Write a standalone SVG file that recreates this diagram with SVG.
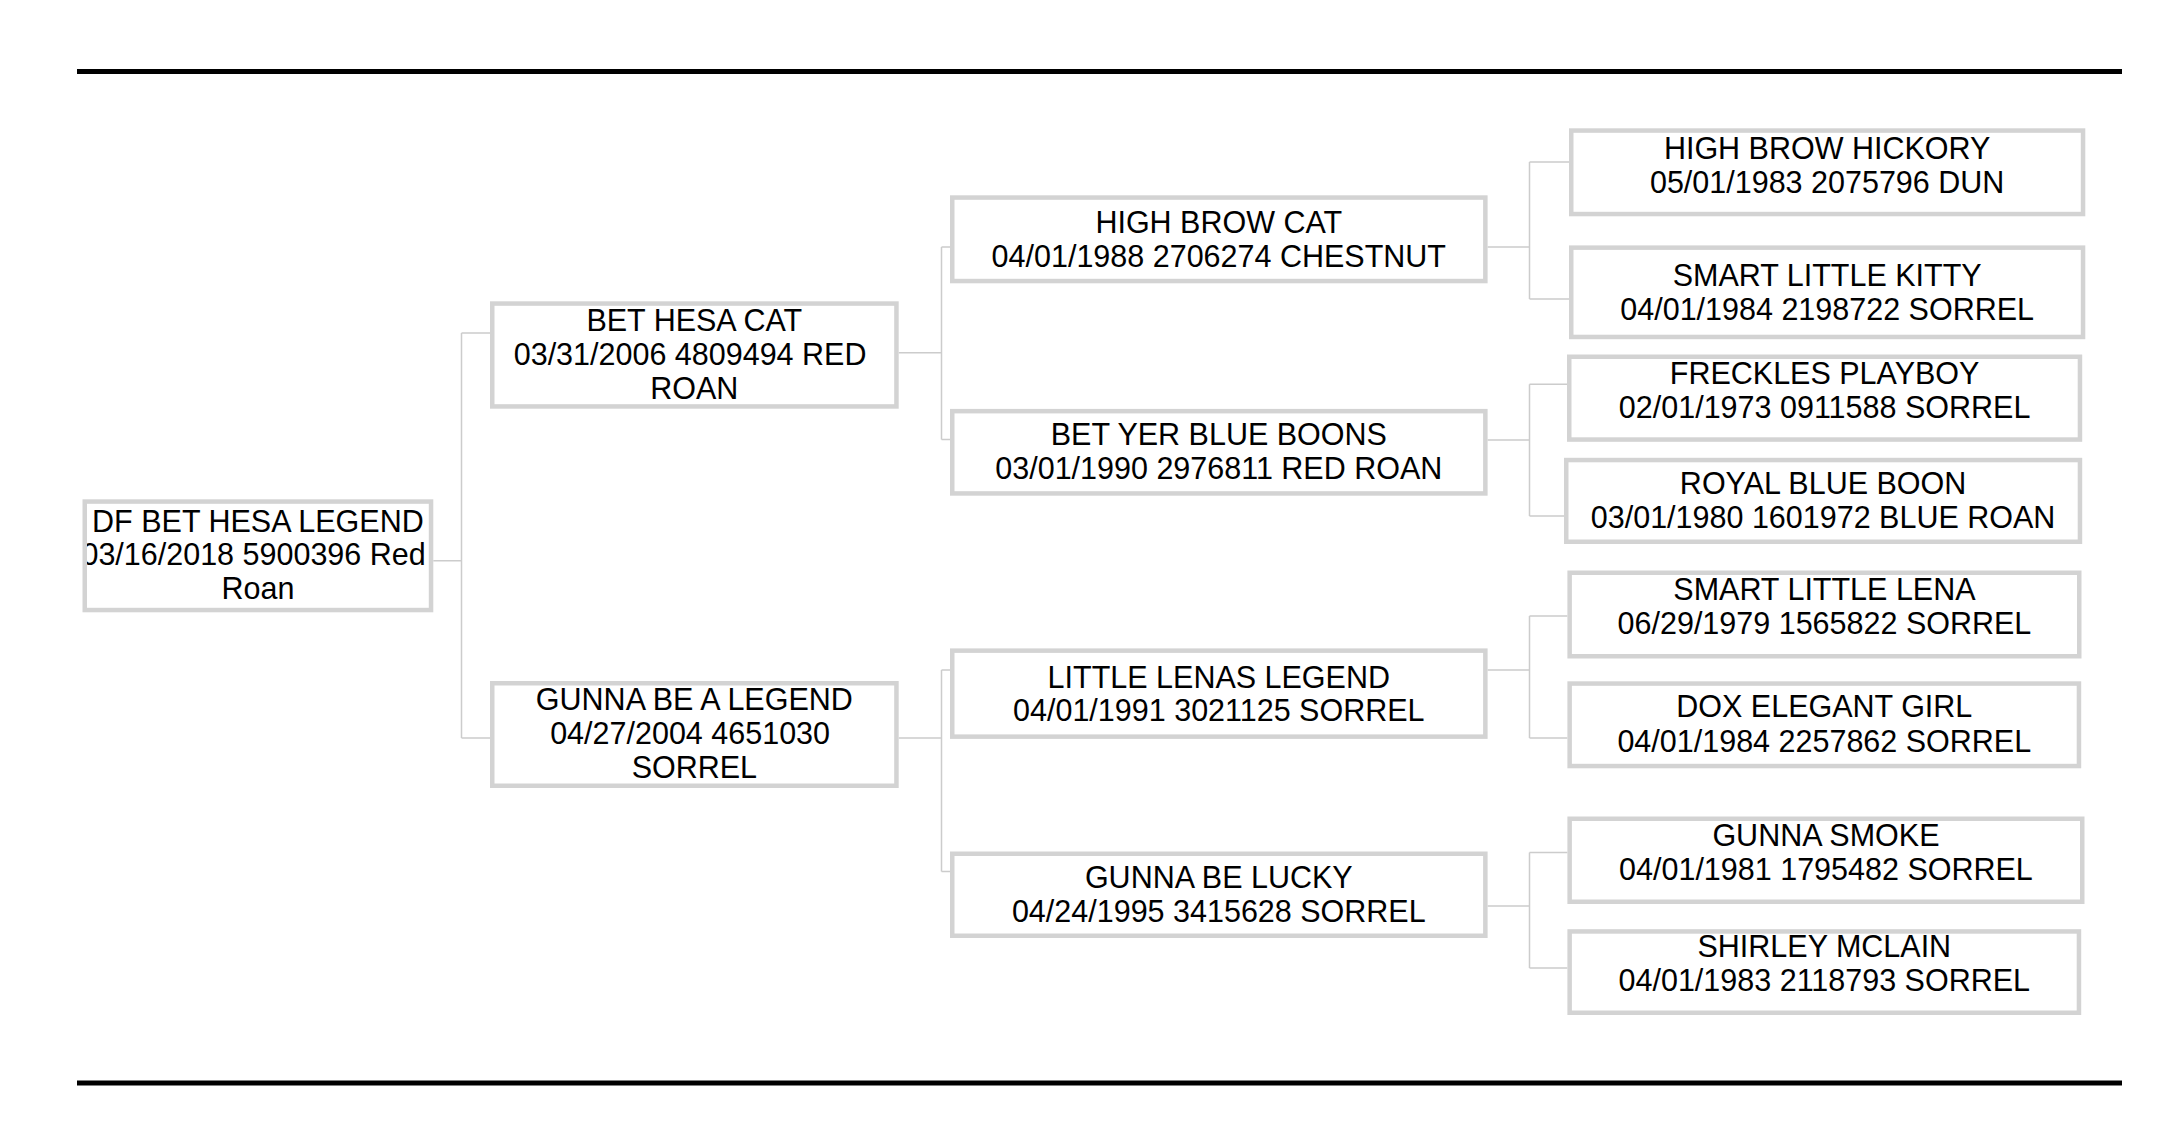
<svg xmlns="http://www.w3.org/2000/svg" width="2182" height="1130" viewBox="0 0 2182 1130">
<style>
.box{fill:#ffffff;stroke:#d3d3d3;stroke-width:4.5}
.t{font-family:"Liberation Sans",Arial,Helvetica,sans-serif;font-size:30.5px;fill:#000000;text-anchor:middle}
.rule{stroke:#000000;stroke-width:5}
.conn{fill:none;stroke:#cccccc;stroke-width:1.5}
</style>
<defs>
<clipPath id="clipRoot"><rect x="87" y="504" width="344" height="104"/></clipPath>
</defs>
<rect x="0" y="0" width="2182" height="1130" fill="#ffffff"/>
<line class="rule" x1="77" y1="71.5" x2="2122" y2="71.5"/>
<line class="rule" x1="77" y1="1083" x2="2122" y2="1083"/>
<g id="connectors">
<path class="conn" d="M433.3 560.7 H461.5 M461.5 333 V738 M461.5 333 H490 M461.5 738 H490"/>
<path class="conn" d="M898.7 352.7 H941.5 M941.5 247 V439.5 M941.5 247 H950 M941.5 439.5 H950"/>
<path class="conn" d="M898.7 738 H941.5 M941.5 670 V871.5 M941.5 670 H950 M941.5 871.5 H950"/>
<path class="conn" d="M1487.6 247 H1529.5 M1529.5 162 V299 M1529.5 162 H1569 M1529.5 299 H1569"/>
<path class="conn" d="M1487.6 440 H1529.5 M1529.5 384.3 V516 M1529.5 384.3 H1567 M1529.5 516 H1564"/>
<path class="conn" d="M1487.6 670 H1529.5 M1529.5 616 V738 M1529.5 616 H1567.4 M1529.5 738 H1567.4"/>
<path class="conn" d="M1487.6 906 H1529.5 M1529.5 852.5 V968 M1529.5 852.5 H1567.4 M1529.5 968 H1567.4"/>
</g>
<g id="node-root">
<rect class="box" x="84.75" y="501.55" width="346.3" height="108.5"/>
<g clip-path="url(#clipRoot)">
<text class="t" x="257.9" y="531.5">DF BET HESA LEGEND</text>
<text class="t" x="253.6" y="565.2">03/16/2018 5900396 Red</text>
<text class="t" x="257.9" y="599">Roan</text>
</g>
</g>
<g id="node-bet-hesa-cat">
<rect class="box" x="492.25" y="303.55" width="404.2" height="102.9"/>
<text class="t" x="694.35" y="331">BET HESA CAT</text>
<text class="t" x="690.1" y="365.2">03/31/2006 4809494 RED</text>
<text class="t" x="694.35" y="399.2">ROAN</text>
</g>
<g id="node-gunna-be-a-legend">
<rect class="box" x="492.25" y="683.25" width="404.2" height="102.5"/>
<text class="t" x="694.35" y="710.3">GUNNA BE A LEGEND</text>
<text class="t" x="690.1" y="744.2">04/27/2004 4651030</text>
<text class="t" x="694.35" y="778.2">SORREL</text>
</g>
<g id="node-high-brow-cat">
<rect class="box" x="952.25" y="197.55" width="533.1" height="83.5"/>
<text class="t" x="1218.8" y="232.8">HIGH BROW CAT</text>
<text class="t" x="1218.8" y="266.5">04/01/1988 2706274 CHESTNUT</text>
</g>
<g id="node-bet-yer-blue-boons">
<rect class="box" x="952.25" y="411.15" width="533.1" height="82.3"/>
<text class="t" x="1218.8" y="445.2">BET YER BLUE BOONS</text>
<text class="t" x="1218.8" y="478.9">03/01/1990 2976811 RED ROAN</text>
</g>
<g id="node-little-lenas-legend">
<rect class="box" x="952.25" y="650.65" width="533.1" height="86"/>
<text class="t" x="1218.8" y="687.5">LITTLE LENAS LEGEND</text>
<text class="t" x="1218.8" y="721">04/01/1991 3021125 SORREL</text>
</g>
<g id="node-gunna-be-lucky">
<rect class="box" x="952.25" y="853.75" width="533.1" height="82"/>
<text class="t" x="1218.8" y="888.2">GUNNA BE LUCKY</text>
<text class="t" x="1218.8" y="922.4">04/24/1995 3415628 SORREL</text>
</g>
<g id="node-high-brow-hickory">
<rect class="box" x="1571.25" y="130.55" width="511.8" height="83.5"/>
<text class="t" x="1827.15" y="158.6">HIGH BROW HICKORY</text>
<text class="t" x="1827.15" y="193">05/01/1983 2075796 DUN</text>
</g>
<g id="node-smart-little-kitty">
<rect class="box" x="1571.25" y="247.65" width="511.8" height="89.3"/>
<text class="t" x="1827.15" y="285.6">SMART LITTLE KITTY</text>
<text class="t" x="1827.15" y="320">04/01/1984 2198722 SORREL</text>
</g>
<g id="node-freckles-playboy">
<rect class="box" x="1569.25" y="356.75" width="510.7" height="82.8"/>
<text class="t" x="1824.6" y="384">FRECKLES PLAYBOY</text>
<text class="t" x="1824.6" y="417.6">02/01/1973 0911588 SORREL</text>
</g>
<g id="node-royal-blue-boon">
<rect class="box" x="1566.25" y="460.05" width="513.7" height="81.7"/>
<text class="t" x="1823.1" y="494.2">ROYAL BLUE BOON</text>
<text class="t" x="1823.1" y="527.5">03/01/1980 1601972 BLUE ROAN</text>
</g>
<g id="node-smart-little-lena">
<rect class="box" x="1569.65" y="572.75" width="509.6" height="83.5"/>
<text class="t" x="1824.45" y="599.5">SMART LITTLE LENA</text>
<text class="t" x="1824.45" y="634">06/29/1979 1565822 SORREL</text>
</g>
<g id="node-dox-elegant-girl">
<rect class="box" x="1569.65" y="683.55" width="509.3" height="82.5"/>
<text class="t" x="1824.3" y="717">DOX ELEGANT GIRL</text>
<text class="t" x="1824.3" y="751.5">04/01/1984 2257862 SORREL</text>
</g>
<g id="node-gunna-smoke">
<rect class="box" x="1569.65" y="818.75" width="512.6" height="83"/>
<text class="t" x="1825.95" y="846">GUNNA SMOKE</text>
<text class="t" x="1825.95" y="880">04/01/1981 1795482 SORREL</text>
</g>
<g id="node-shirley-mclain">
<rect class="box" x="1569.65" y="931.45" width="509.3" height="81.3"/>
<text class="t" x="1824.3" y="957">SHIRLEY MCLAIN</text>
<text class="t" x="1824.3" y="991.4">04/01/1983 2118793 SORREL</text>
</g>
</svg>
